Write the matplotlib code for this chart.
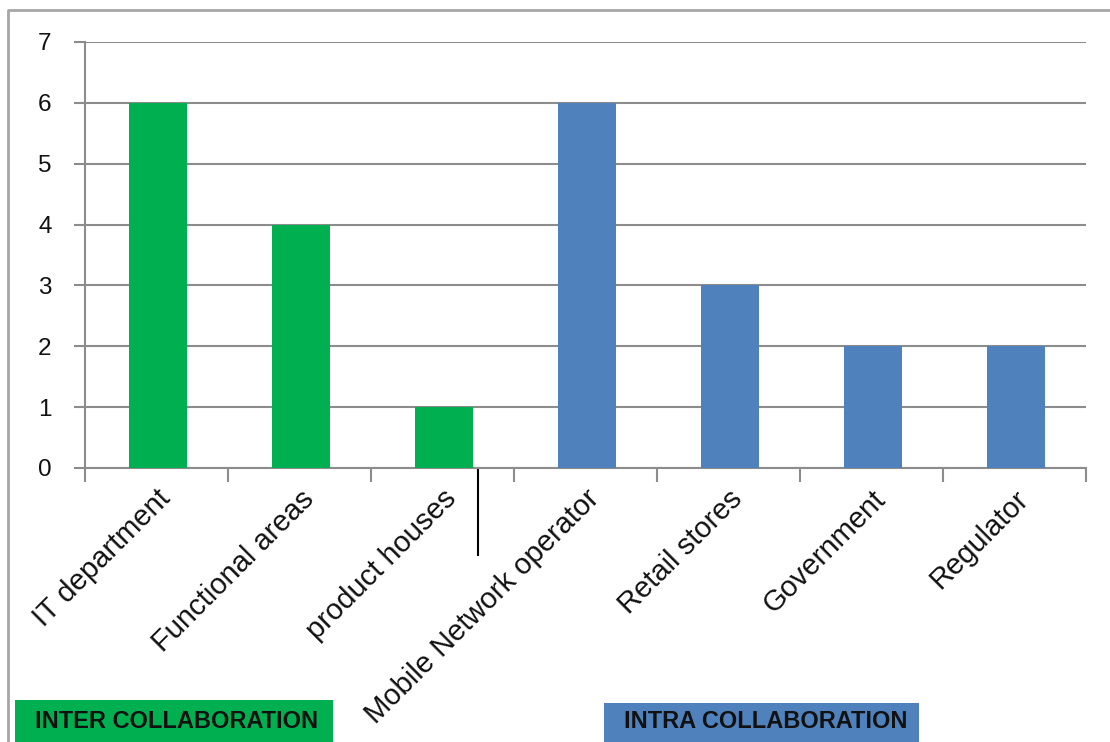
import matplotlib
matplotlib.use('Agg')
import matplotlib.pyplot as plt
from matplotlib.patches import Rectangle
from matplotlib.lines import Line2D

categories = ['IT department', 'Functional areas', 'product houses',
              'Mobile Network operator', 'Retail stores', 'Government', 'Regulator']
values = [6, 4, 1, 6, 3, 2, 2]
groups = ['inter', 'inter', 'inter', 'intra', 'intra', 'intra', 'intra']
group_labels = {'inter': 'INTER COLLABORATION', 'intra': 'INTRA COLLABORATION'}
group_colors = {'inter': '#00B050', 'intra': '#4F81BD'}

plt.rcParams['font.family'] = ['Liberation Sans', 'DejaVu Sans']

fig = plt.figure(figsize=(11.1, 7.42), dpi=100)
ax = fig.add_axes([85 / 1110, 1 - 468 / 742, 1001 / 1110, 426 / 742])

xs = list(range(len(categories)))
ax.bar([x + 0.01 for x in xs], values, width=0.4,
       color=[group_colors[g] for g in groups], zorder=3)

ax.set_xlim(-0.5, len(categories) - 0.5)
ax.set_ylim(0, 7)
ax.set_yticks(range(0, 8))
ax.yaxis.grid(True, color='#8c8c8c', linewidth=1.5, zorder=0)
ax.set_axisbelow(True)

ax.set_xticks([x - 0.5 for x in range(len(categories) + 1)])
ax.set_xticklabels([])
ax.set_xticks(xs, minor=True)
ax.set_xticklabels(categories, minor=True, rotation=45, ha='right',
                   rotation_mode='anchor', fontsize=21, color='#111111')
ax.tick_params(axis='x', which='minor', length=0, pad=12)
ax.tick_params(axis='x', which='major', length=10, color='#8c8c8c', width=1.5)
ax.tick_params(axis='y', length=8, color='#8c8c8c', width=1.5,
               labelsize=17.5, pad=16, labelcolor='#111111')

for s in ['top', 'right']:
    ax.spines[s].set_visible(False)
for s in ['left', 'bottom']:
    ax.spines[s].set_color('#8c8c8c')
    ax.spines[s].set_linewidth(1.5)

# divider between the two groups
split = groups.index('intra') - 0.75
ax.plot([split, split], [0, -1.43], color='black', linewidth=1.5, clip_on=False)

# group legend boxes
boxes = {'inter': (15, 700, 318), 'intra': (604, 703, 315)}
for g, (x0, y0, w) in boxes.items():
    fig.patches.append(Rectangle((x0 / 1110, 0), w / 1110, 1 - y0 / 742,
                                 transform=fig.transFigure,
                                 facecolor=group_colors[g], edgecolor='none'))
    fig.text((x0 + 20) / 1110, 1 - 721 / 742, group_labels[g],
             fontsize=17, fontweight='bold', va='center', ha='left',
             color='#111111')

# outer frame
fig.lines.append(Line2D([8 / 1110, 8 / 1110, 1], [0, 1 - 10 / 742, 1 - 10 / 742],
                        transform=fig.transFigure, color='#a6a6a6', linewidth=2))

fig.savefig('out.png', dpi=100)
